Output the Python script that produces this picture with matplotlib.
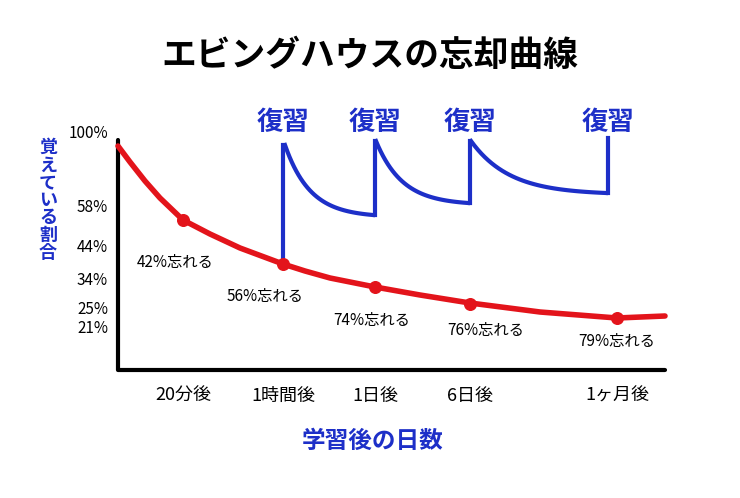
import numpy as np
import matplotlib.pyplot as plt

plt.rcParams['font.family'] = ['Noto Sans CJK JP', 'DejaVu Sans']

RED = '#e3141b'
BLUE = '#1d2fc8'

# canvas-style coordinates (x to the right, y downward), as in the drawing
tick_labels = ['100%', '58%', '44%', '34%', '25%', '21%']
tick_y = [133, 207, 247, 280, 309, 328]

time_labels = ['20分後', '1時間後', '1日後', '6日後', '1ヶ月後']
time_x = [183, 283, 375, 470, 617]

dot_y = [220, 264, 287, 304, 318]
forget_labels = ['42%忘れる', '56%忘れる', '74%忘れる', '76%忘れる', '79%忘れる']
forget_pos = [(175, 262), (265, 296), (372, 320), (486, 330), (617, 341)]

red_x = [118, 130, 145, 160, 183, 210, 240, 283, 305, 330, 355, 375, 420, 470, 540, 617, 665]
red_y = [146, 162, 181, 198, 220, 234, 248, 264, 271, 278, 283, 287, 295, 303, 312, 318, 316]

# blue review curves: (start x, end x, peak y, end y)
review_x = [283, 375, 470, 608]
blue_segments = [(285, 373, 145, 215), (376, 468, 141, 203), (471, 606, 141, 193)]

fig = plt.figure(figsize=(7.4, 4.98), dpi=100)
ax = fig.add_axes([0, 0, 1, 1])
ax.set_xlim(0, 740)
ax.set_ylim(498, 0)
ax.axis('off')

# axes
ax.plot([118, 118, 665], [140, 370, 370], color='black', lw=3, solid_capstyle='round')

# red forgetting curve
ax.plot(red_x, red_y, color=RED, lw=4, solid_capstyle='round')
ax.scatter(time_x, dot_y, color=RED, s=70, zorder=3)

# blue review curves
for x0, x1, yp, ye in blue_segments:
    t = np.linspace(0, 1, 40)
    xs = x0 + (x1 - x0) * t
    ys = yp + (ye - yp) * (1 - np.exp(-3.5 * t)) / (1 - np.exp(-3.5))
    ax.plot(xs, ys, color=BLUE, lw=3)
starts = [264] + [s[3] for s in blue_segments]
tops = [s[2] for s in blue_segments] + [138]
for xr, y0, y1 in zip(review_x, starts, tops):
    ax.plot([xr, xr], [y0, y1], color=BLUE, lw=3)
for xr in review_x:
    ax.text(xr, 122, '復習', color=BLUE, fontsize=19, fontweight='bold', ha='center', va='center')

# texts
ax.text(370, 55, 'エビングハウスの忘却曲線', fontsize=25, fontweight='bold', ha='center', va='center')
for lab, y in zip(tick_labels, tick_y):
    ax.text(108, y, lab, fontsize=11, ha='right', va='center')
ax.text(48, 200, '\n'.join('覚えている割合'), color=BLUE, fontsize=13, fontweight='bold',
        ha='center', va='center', linespacing=0.9)
for lab, x in zip(time_labels, time_x):
    ax.text(x, 396, lab, fontsize=13, ha='center', va='center')
for lab, (x, y) in zip(forget_labels, forget_pos):
    ax.text(x, y, lab, fontsize=11, ha='center', va='center')
ax.text(373, 441, '学習後の日数', color=BLUE, fontsize=17, fontweight='bold', ha='center', va='center')

fig.savefig('out.png', dpi=100)
